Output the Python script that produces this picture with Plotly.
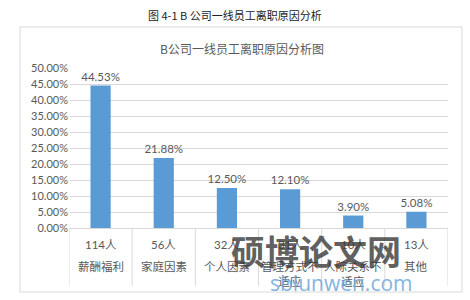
import plotly.graph_objects as go

# Turnover reasons of front-line staff at company B
counts = ["114人", "56人", "32人", "31人", "10人", "13人"]
reasons = ["薪酬福利", "家庭因素", "个人因素", "管理方式不<br>适应", "人际关系不<br>适应", "其他"]
shares = [44.53, 21.88, 12.50, 12.10, 3.90, 5.08]

y_ticks = [0, 5, 10, 15, 20, 25, 30, 35, 40, 45, 50]
y_tick_text = [f"{v:.2f}%" for v in y_ticks]

x = list(range(len(shares)))
latin = "Lato, 'Noto Sans CJK SC', sans-serif"
cjk = "'Noto Sans CJK SC', sans-serif"
grey = "#595959"

# plot area in pixels: x 69..448, y 68..228
PX0, PX1, PY0, PY1 = 69, 448, 68, 228
pw, ph = PX1 - PX0, PY1 - PY0


def px(xp):
    return (xp - PX0) / pw


def py(yp):
    return (PY1 - yp) / ph


fig = go.Figure()
fig.add_trace(go.Bar(
    x=x, y=shares, width=0.32,
    marker=dict(color="#5B9BD5", line=dict(width=0)),
    text=[f"{v:.2f}%" for v in shares], textposition="outside",
    constraintext="none",
    textfont=dict(family=latin, size=11.5, color=grey),
    cliponaxis=False,
))

annotations = [
    dict(text="图 4-1 B 公司一线员工离职原因分析", xref="paper", yref="paper",
         x=px(235), y=py(15), xanchor="center", yanchor="middle", showarrow=False,
         font=dict(family=cjk, size=11, color="#222222")),
    dict(text="B公司一线员工离职原因分析图", xref="paper", yref="paper",
         x=px(242), y=py(48), xanchor="center", yanchor="middle", showarrow=False,
         font=dict(family=cjk, size=12, color=grey)),
]

for i, (c, r) in enumerate(zip(counts, reasons)):
    annotations.append(dict(text=c, x=i, xref="x", yref="paper",
                            y=py(244), xanchor="center", yanchor="middle", showarrow=False,
                            font=dict(family=latin, size=11.5, color=grey)))
    annotations.append(dict(text=r, x=i, xref="x", yref="paper",
                            y=py(256), xanchor="center", yanchor="top", showarrow=False,
                            font=dict(family=cjk, size=11.5, color=grey)))

# site watermark
annotations.append(dict(text="<b>硕博论文网</b>", xref="paper", yref="paper",
                        x=px(316), y=py(250), xanchor="center", yanchor="middle",
                        showarrow=False, opacity=0.8,
                        font=dict(family=cjk, size=34, color="#3a3a3a")))
annotations.append(dict(text="sblunwen.com", xref="paper", yref="paper",
                        x=px(341), y=py(283), xanchor="center", yanchor="middle",
                        showarrow=False, opacity=0.85,
                        font=dict(family="'Open Sans', sans-serif", size=21, color="#6FA8DC")))

shapes = [
    # chart frame
    dict(type="rect", xref="paper", yref="paper",
         x0=px(20), x1=px(462), y0=py(292), y1=py(27),
         line=dict(color="#D9D9D9", width=1), layer="below"),
]
# category table dividers
for k in range(len(shares) + 1):
    shapes.append(dict(type="line", xref="x", yref="paper", x0=k - 0.5, x1=k - 0.5,
                       y0=0, y1=py(286), line=dict(color="#D9D9D9", width=1)))

fig.update_layout(
    width=470, height=300,
    margin=dict(l=PX0, r=470 - PX1, t=PY0, b=300 - PY1),
    paper_bgcolor="white", plot_bgcolor="white",
    showlegend=False,
    annotations=annotations, shapes=shapes,
    xaxis=dict(range=[-0.5, len(shares) - 0.5], showticklabels=False, showgrid=False,
               zeroline=False, showline=True, linecolor="#D9D9D9", linewidth=1,
               ticks="", fixedrange=True),
    yaxis=dict(range=[0, 50], tickvals=y_ticks, ticktext=y_tick_text,
               tickfont=dict(family=latin, size=11, color=grey),
               showgrid=True, gridcolor="#D9D9D9", gridwidth=1, zeroline=False,
               showline=False, ticks="", ticklen=0, fixedrange=True),
)

fig.write_html("out.html")
